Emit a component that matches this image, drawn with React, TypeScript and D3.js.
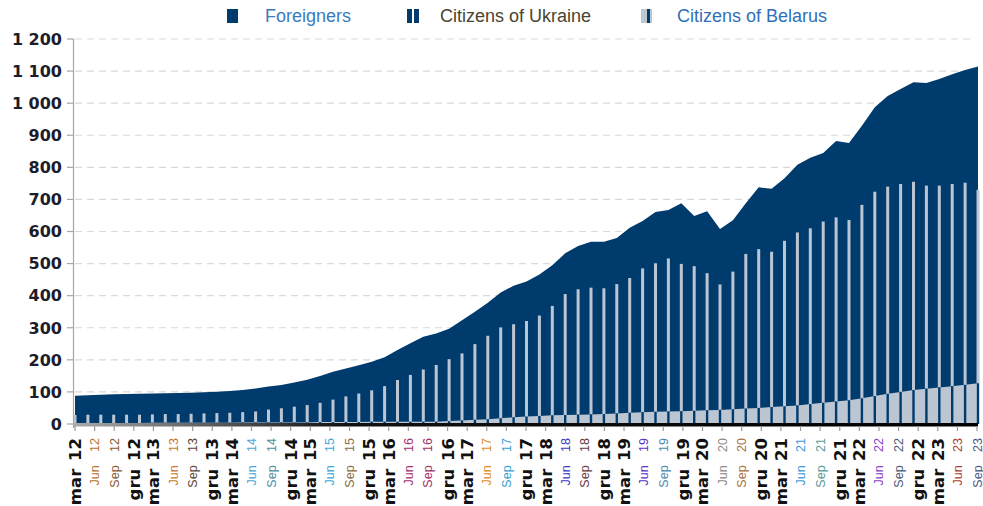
import React, { useEffect, useRef } from "react";
import * as d3 from "d3";

// thousands (71 points, every ~2 months, mar 12 .. Sep 23)
const foreigners = [
  88, 89.5, 91, 92.5, 93.5, 94.3, 95, 95.7, 96.6, 97.7,
  98.6, 100.5, 103, 106, 111, 117, 121.5, 129, 138, 150,
  163, 173, 183, 194, 208, 231, 252, 272, 282, 297,
  323, 350, 378, 410, 431, 444, 466, 495, 532, 555,
  568, 568, 580, 612, 633, 661, 667, 688, 648, 663,
  608, 635, 688, 738, 733, 766, 808, 830, 845, 882,
  876, 930, 987, 1022, 1044, 1065, 1063, 1075, 1090, 1103,
  1114,
];
const ukraine = [
  28, 29, 29, 29, 29, 29, 30, 31, 31, 32,
  33, 34, 35, 37, 39, 45, 49, 54, 59, 66,
  76, 86, 95, 105, 118, 137, 153, 170, 184, 202,
  220, 249, 275, 301, 311, 321, 338, 368, 405, 420,
  425, 423, 436, 455, 485, 501, 516, 499, 492, 470,
  435, 475, 530, 545, 537, 571, 597, 610, 631, 644,
  636, 683, 724, 740, 748, 755, 743, 743, 748, 752,
  730,
];
const belarus = [
  3, 3, 3, 3, 3, 3, 4, 4, 4, 4,
  4, 4, 4, 5, 5, 5, 5, 5, 5, 6,
  6, 6, 6, 7, 7, 7, 7, 7, 7, 9,
  11, 13, 15, 18, 21, 23, 25, 27, 28, 29,
  30, 31, 33, 35, 37, 38, 39, 40, 41, 43,
  44, 46, 48, 50, 53, 55, 58, 62, 66, 70,
  74, 80, 87, 94, 100, 106, 110, 114, 118, 122,
  127,
];

const months = ["mar", "Jun", "Sep", "gru"];
const years = ["12", "13", "14", "15", "16", "17", "18", "19", "20", "21", "22", "23"];
const tickLabels = years
  .flatMap((yy) => months.map((m) => `${m} ${yy}`))
  .slice(0, 47);
// colours of the small Jun / Sep labels, per year
const junColors = ["#b8732e", "#c8782a", "#4aa5d6", "#3aa6dc", "#a03070", "#e08a1e", "#3a3ac8", "#5a30c8", "#8a8a8a", "#3a9ad8", "#8a40c8", "#a84030"];
const sepColors = ["#8a5a33", "#5a4636", "#4a8fa0", "#8c6a3c", "#a0306a", "#3aa0d0", "#6a3a40", "#4a8ab0", "#a87040", "#5a9a96", "#4a5a7a", "#4a5a88"];

const yTicks = d3.range(0, 1201, 100);
const legendItems = ["Foreigners", "Citizens of Ukraine", "Citizens of Belarus"];

const NAVY = "#003b6e";
const LIGHT = "#bcc6d3";

function fmt(v: number) {
  if (v < 1000) return String(v);
  return `${Math.floor(v / 1000)} ${String(v % 1000).padStart(3, "0")}`;
}

function App() {
  const ref = useRef<SVGSVGElement>(null);

  useEffect(() => {
    const svg = d3.select(ref.current);
    svg.selectAll("*").remove();

    const left = 75, right = 978, top = 39, bottom = 424;

    const x = d3.scaleLinear().domain([0, foreigners.length - 1]).range([left, right]);
    const xq = d3.scalePoint<string>().domain(tickLabels).range([left, 977]);
    const y = d3.scaleLinear().domain([0, 1200]).range([bottom, top]);

    // gradient for the bottom axis line
    const defs = svg.append("defs");
    const grad = defs.append("linearGradient").attr("id", "axisGrad").attr("x1", "0").attr("x2", "1");
    grad.append("stop").attr("offset", "0").attr("stop-color", "#aaaaaa");
    grad.append("stop").attr("offset", "0.3").attr("stop-color", "#111111");
    grad.append("stop").attr("offset", "1").attr("stop-color", "#000000");

    // grid
    svg
      .append("g")
      .selectAll("line")
      .data(yTicks.filter((d) => d > 0))
      .enter()
      .append("line")
      .attr("x1", left)
      .attr("x2", 975)
      .attr("y1", (d) => y(d))
      .attr("y2", (d) => y(d))
      .style("stroke", "#d9d9d9")
      .style("stroke-width", 1.2)
      .style("stroke-dasharray", "7,5");

    // foreigners area
    const area = d3
      .area<number>()
      .x((d, i) => x(i))
      .y0(y(0))
      .y1((d) => y(d));

    svg.append("path").datum(foreigners).attr("d", area).style("fill", NAVY);

    // belarus area
    svg.append("path").datum(belarus).attr("d", area).style("fill", LIGHT);

    // ukraine bars
    svg
      .append("g")
      .selectAll("rect")
      .data(ukraine)
      .enter()
      .append("rect")
      .attr("x", (d, i) => x(i) - 1.5)
      .attr("width", 3)
      .attr("y", (d) => y(d))
      .attr("height", (d, i) => y(belarus[i]) - y(d))
      .style("fill", LIGHT);

    // dark stripes through the belarus area
    svg
      .append("g")
      .selectAll("rect")
      .data(belarus)
      .enter()
      .append("rect")
      .attr("x", (d, i) => x(i) - 1.2)
      .attr("width", 2.4)
      .attr("y", (d) => y(d))
      .attr("height", (d) => y(0) - y(d))
      .style("fill", NAVY);

    // y axis
    svg
      .append("line")
      .attr("x1", 73.5)
      .attr("x2", 73.5)
      .attr("y1", y(1200))
      .attr("y2", y(0) + 4)
      .style("stroke", "#a6a6a6")
      .style("stroke-width", 1.2);

    svg
      .append("g")
      .selectAll("line")
      .data(yTicks)
      .enter()
      .append("line")
      .attr("x1", 67)
      .attr("x2", 73.5)
      .attr("y1", (d) => y(d))
      .attr("y2", (d) => y(d))
      .style("stroke", "#a6a6a6")
      .style("stroke-width", 1.2);

    svg
      .append("g")
      .selectAll("text")
      .data(yTicks)
      .enter()
      .append("text")
      .attr("x", 62)
      .attr("y", (d) => y(d))
      .attr("dy", "0.36em")
      .attr("text-anchor", "end")
      .style("font-family", "DejaVu Sans, Verdana, sans-serif")
      .style("font-weight", "bold")
      .style("font-size", "16px")
      .style("fill", "#1c1c2a")
      .text((d) => fmt(d));

    // x axis line + ticks
    svg
      .append("rect")
      .attr("x", 73)
      .attr("y", y(0) - 1)
      .attr("width", right - 73)
      .attr("height", 3.5)
      .style("fill", "url(#axisGrad)");

    svg
      .append("g")
      .selectAll("line")
      .data(tickLabels)
      .enter()
      .append("line")
      .attr("x1", (d) => xq(d)!)
      .attr("x2", (d) => xq(d)!)
      .attr("y1", y(0) + 2)
      .attr("y2", y(0) + 7)
      .style("stroke", "#9a9a9a")
      .style("stroke-width", 1.2);

    // x labels
    svg
      .append("g")
      .selectAll("text")
      .data(tickLabels)
      .enter()
      .append("text")
      .attr("transform", (d) => `translate(${xq(d)}, 438) rotate(-90)`)
      .attr("dy", "0.36em")
      .attr("text-anchor", "end")
      .each(function (d, i) {
        const m = i % 4;
        const yr = Math.floor(i / 4);
        const big = m === 0 || m === 3;
        d3.select(this)
          .style("font-family", big ? "DejaVu Sans, Verdana, sans-serif" : "Liberation Sans, Arial, sans-serif")
          .style("font-weight", big ? "bold" : "normal")
          .style("font-size", big ? "16.5px" : "12.5px")
          .style("word-spacing", big ? "2px" : "10px")
          .style("fill", big ? "#111" : m === 1 ? junColors[yr] : sepColors[yr]);
      })
      .text((d) => d);

    // legend
    const lg = svg.append("g").style("font-family", "Liberation Sans, Arial, sans-serif").style("font-size", "18px");
    const legendX = [227, 407, 641];
    const textX = [265, 440, 677];
    const textColors = ["#3a7bbf", "#4a4430", "#2f6fb8"];

    lg.append("rect").attr("x", legendX[0]).attr("y", 9).attr("width", 11).attr("height", 14).style("fill", NAVY);
    lg.append("rect").attr("x", legendX[1]).attr("y", 9).attr("width", 5).attr("height", 14).style("fill", NAVY);
    lg.append("rect").attr("x", legendX[1] + 7).attr("y", 9).attr("width", 5).attr("height", 14).style("fill", NAVY);
    lg.append("rect").attr("x", legendX[2]).attr("y", 9).attr("width", 11).attr("height", 14).style("fill", LIGHT);
    lg.append("rect").attr("x", legendX[2] + 6).attr("y", 9).attr("width", 3).attr("height", 14).style("fill", NAVY);

    lg.selectAll("text.leg")
      .data(legendItems)
      .enter()
      .append("text")
      .attr("class", "leg")
      .attr("x", (d, i) => textX[i])
      .attr("y", 22)
      .style("fill", (d, i) => textColors[i])
      .text((d) => d);
  }, []);

  return (
    <svg
      ref={ref}
      width={983}
      height={506}
      style={{ position: "absolute", left: 0, top: 0, background: "#fff" }}
    />
  );
}

export default App;
